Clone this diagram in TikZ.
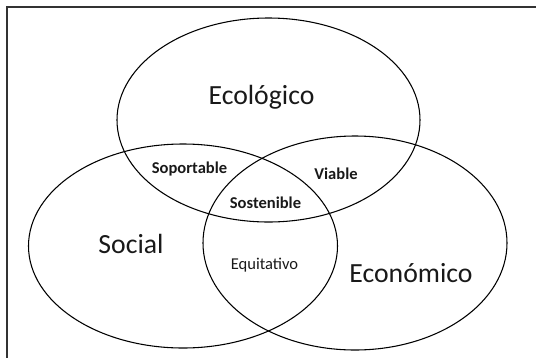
\documentclass[tikz,border=0pt]{standalone}
\usepackage{fontspec}
\setmainfont{Carlito}
\begin{document}
\begin{tikzpicture}[x=0.75pt,y=-0.75pt,
  circ/.style={draw=black,line width=0.8pt},
  big/.style={font=\fontsize{20.8}{24}\selectfont,text=black!90},
  small/.style={font=\fontsize{12.4}{14}\selectfont\bfseries,text=black!90},
  smallreg/.style={font=\fontsize{12.4}{14}\selectfont,text=black!90},
  frame/.style={draw=black!80,line width=1.5pt}]
\useasboundingbox (0,0) rectangle (536,358);
\coordinate (tl) at (6.5,6.5);
\coordinate (tr) at (536,6.5);
\coordinate (bl) at (6.5,358);
\draw[frame] (tr) -- (tl) -- (bl);
\draw[circ] (268.5,120) ellipse [x radius=151.5, y radius=102];
\draw[circ] (183,246) ellipse [x radius=154.5, y radius=102];
\draw[circ] (355,243) ellipse [x radius=152, y radius=107];
\node[big] (eco) at (261.5,97) {Ecológico};
\node[big] (soc) at (131,244) {Social};
\node[big] (econ) at (411,273) {Económico};
\node[small] (sop) at (189.5,169) {Soportable};
\node[small] (via) at (336,174) {Viable};
\node[small] (sos) at (265.5,203) {Sostenible};
\node[smallreg] (equ) at (264.5,265) {Equitativo};
\end{tikzpicture}
\end{document}
